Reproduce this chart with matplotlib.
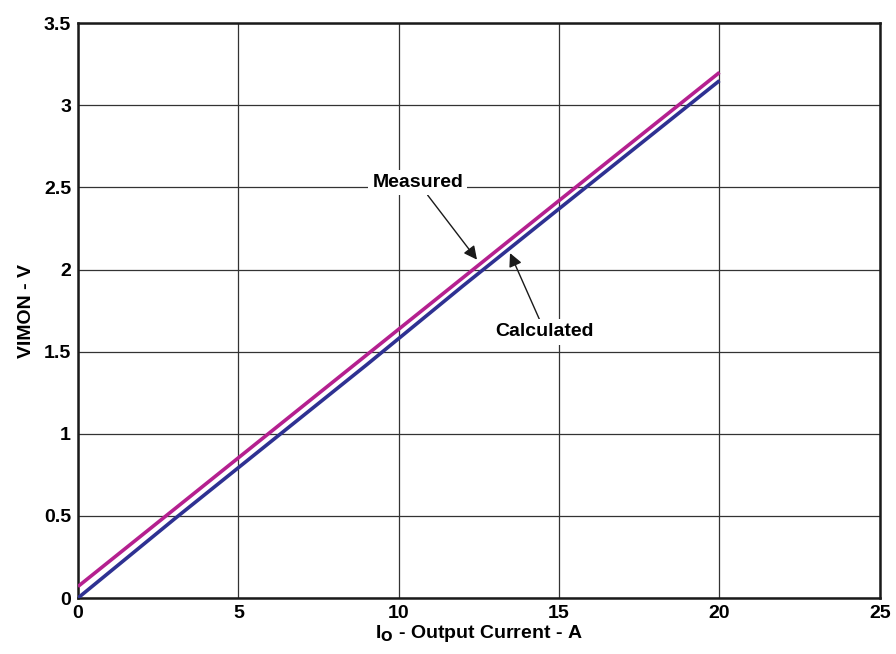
import matplotlib.pyplot as plt

plt.rcParams['font.family'] = ['Liberation Sans', 'DejaVu Sans']
plt.rcParams['font.weight'] = 'bold'

# output current (A) vs VIMON (V)
current = [0, 3, 6, 9, 12, 15, 20]
measured = [0.07, 0.54, 1.01, 1.48, 1.95, 2.42, 3.20]
calculated = [0.0, 0.48, 0.95, 1.42, 1.90, 2.37, 3.15]

fig = plt.figure(figsize=(8.96, 6.54), dpi=100)
ax = fig.add_axes([0.087, 0.0856, 0.895, 0.879])

ax.plot(current, calculated, color='#2E3192', linewidth=2.6, solid_capstyle='butt', zorder=3)
ax.plot(current, measured, color='#B5208F', linewidth=2.6, solid_capstyle='butt', zorder=3)

ax.set_xlim(0, 25)
ax.set_ylim(0, 3.5)
ax.set_xticks([0, 5, 10, 15, 20, 25])
ax.set_yticks([0, 0.5, 1, 1.5, 2, 2.5, 3, 3.5])
ax.set_yticklabels(['0', '0.5', '1', '1.5', '2', '2.5', '3', '3.5'])
ax.grid(True, color='#333333', linewidth=0.9)
ax.set_axisbelow(True)
ax.tick_params(length=0, labelsize=14, pad=5)
for lbl in ax.get_xticklabels() + ax.get_yticklabels():
    lbl.set_fontweight('bold')
for s in ax.spines.values():
    s.set_linewidth(1.8)
    s.set_color('#1a1a1a')

ax.set_ylabel('VIMON - V', fontsize=14, fontweight='bold', labelpad=6)
ax.set_xlabel(r'I$_\mathbf{O}$ - Output Current - A', fontsize=14, fontweight='bold', labelpad=1)

arrow = dict(arrowstyle='-|>', color='#1a1a1a', lw=1.0, mutation_scale=20,
             shrinkA=0, shrinkB=0)
ax.annotate('Measured', xy=(12.44, 2.06), xytext=(10.6, 2.53),
            ha='center', va='center', fontsize=14, fontweight='bold',
            bbox=dict(facecolor='white', edgecolor='none', pad=3),
            arrowprops=arrow, zorder=4)
ax.annotate('Calculated', xy=(13.47, 2.10), xytext=(14.56, 1.62),
            ha='center', va='center', fontsize=14, fontweight='bold',
            bbox=dict(facecolor='white', edgecolor='none', pad=3),
            arrowprops=arrow, zorder=4)

fig.savefig('out.png', dpi=100, facecolor='white')
